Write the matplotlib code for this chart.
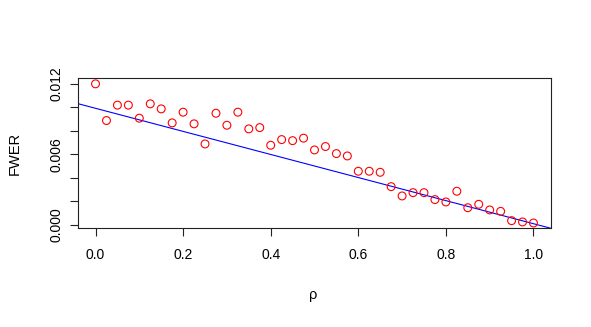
import numpy as np
import matplotlib
matplotlib.use("Agg")
import matplotlib.pyplot as plt

rho = [0.0, 0.025, 0.05, 0.075, 0.1, 0.125, 0.15, 0.175, 0.2, 0.225,
       0.25, 0.275, 0.3, 0.325, 0.35, 0.375, 0.4, 0.425, 0.45, 0.475,
       0.5, 0.525, 0.55, 0.575, 0.6, 0.625, 0.65, 0.675, 0.7, 0.725,
       0.75, 0.775, 0.8, 0.825, 0.85, 0.875, 0.9, 0.925, 0.95, 0.975, 1.0]
fwer = [0.0120, 0.00888, 0.01019, 0.01019, 0.00908, 0.0103, 0.00987, 0.00868, 0.00959, 0.00860,
        0.00689, 0.00950, 0.00848, 0.00959, 0.00817, 0.00828, 0.00678, 0.00726, 0.00717, 0.00738,
        0.00638, 0.00667, 0.00607, 0.00587, 0.00457, 0.00457, 0.00448, 0.00326, 0.00247, 0.00275,
        0.00275, 0.00216, 0.00196, 0.00287, 0.00147, 0.00176, 0.00128, 0.00116, 0.00037, 0.00026, 0.00017]
line_intercept = 0.00992
line_slope = -0.00981

xticks = [0.0, 0.2, 0.4, 0.6, 0.8, 1.0]
yticks_major = [0.000, 0.006, 0.012]
yticks_minor = [0.002, 0.004, 0.008, 0.010]

plt.rcParams['font.family'] = ['Liberation Sans', 'DejaVu Sans']

fig = plt.figure(figsize=(5.91, 3.27), dpi=100)
ax = fig.add_axes([78/591, 1-228.3/327, (551-78)/591, (228.3-78.3)/327])

ax.scatter(rho, fwer, s=32, facecolors='none', edgecolors='red', linewidths=0.8, zorder=3)
xl = np.array([-0.05, 1.05])
ax.plot(xl, line_intercept + line_slope*xl, color='blue', lw=0.8, zorder=2)

ax.set_xlim(-0.04, 1.04)
ax.set_ylim(-0.00028, 0.01247)

ax.set_xticks(xticks)
ax.set_xticklabels([f"{v:.1f}" for v in xticks])
ax.set_yticks(yticks_major)
ax.set_yticklabels([f"{v:.3f}" for v in yticks_major], rotation=90, va='center')
ax.set_yticks(yticks_minor, minor=True)
ax.tick_params(axis='both', which='both', direction='out', length=5.5, width=0.8,
               labelsize=10, color='#222222')
ax.tick_params(axis='x', pad=9)
ax.tick_params(axis='y', pad=5)
for s in ax.spines.values():
    s.set_linewidth(0.8)
    s.set_color('#222222')

fig.text(313/591, 1-295/327, 'ρ', ha='center', va='center', fontsize=10.5)
fig.text(15/591, 1-153/327, 'FWER', ha='center', va='center', rotation=90, fontsize=10.5)

fig.savefig('out.png', dpi=100)
